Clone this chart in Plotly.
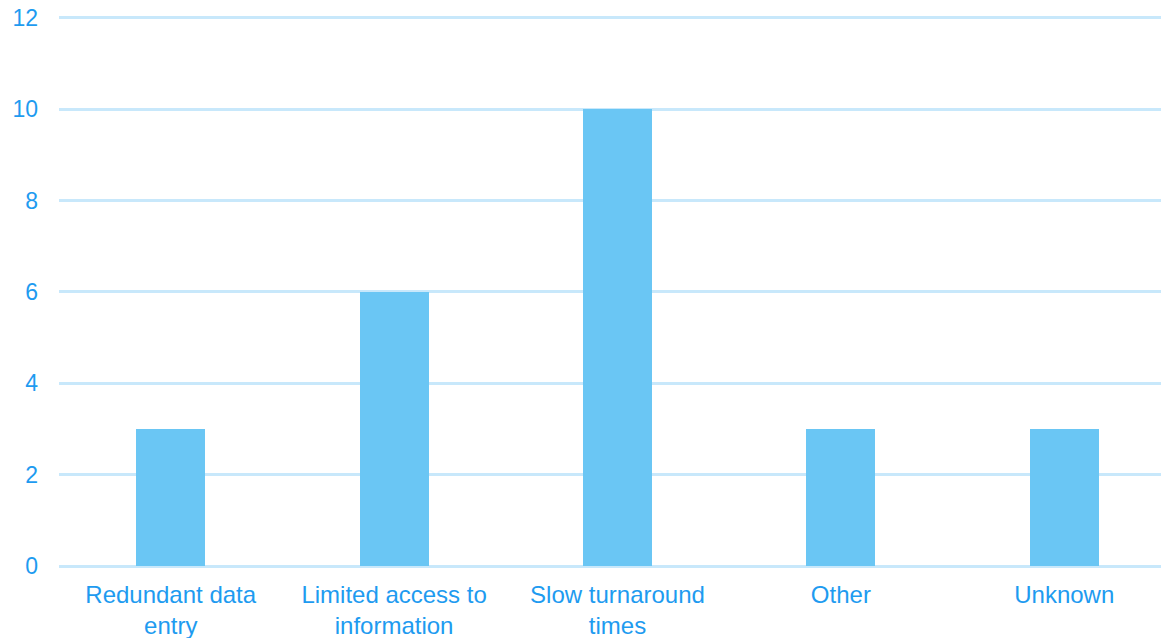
import plotly.graph_objects as go

categories = ["Redundant data<br>entry", "Limited access to<br>information", "Slow turnaround<br>times", "Other", "Unknown"]
values = [3, 6, 10, 3, 3]
y_ticks = [0, 2, 4, 6, 8, 10, 12]

text_color = "#1E9BF0"
grid_color = "#C8E8FB"
bar_color = "#6AC6F4"

fig = go.Figure(go.Bar(x=list(range(len(categories))), y=values, marker_color=bar_color,
                       marker_line_width=0, width=0.309))

fig.update_layout(
    width=1161, height=638,
    margin=dict(l=59, r=0, t=15, b=72),
    paper_bgcolor="white", plot_bgcolor="white",
    font=dict(family="Liberation Sans, Arial", size=24, color=text_color),
    showlegend=False,
    bargap=0,
)
fig.update_xaxes(tickmode="array", tickvals=list(range(len(categories))), ticktext=categories,
                 range=[-0.5, 4.433], showgrid=False, zeroline=False, showline=False,
                 ticks="", ticklabelstandoff=12)
fig.update_yaxes(range=[0, 12.065], tickvals=y_ticks, showgrid=True, gridcolor=grid_color, gridwidth=2.5,
                 zeroline=True, zerolinecolor=grid_color, zerolinewidth=2.5, showline=False,
                 ticks="", ticklabelstandoff=20, tickfont=dict(size=23))

fig.write_html("out.html")
